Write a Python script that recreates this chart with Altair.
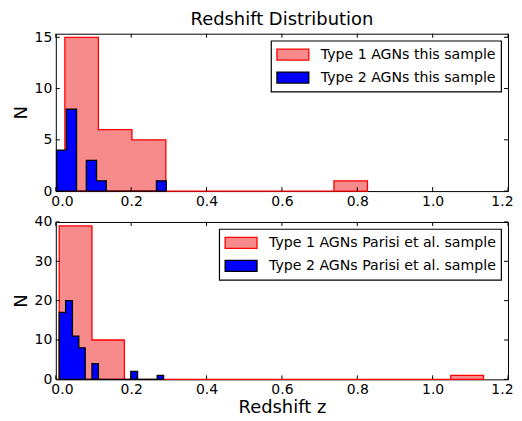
import altair as alt
import pandas as pd

# ---- data ----
x_ticks = [0.0, 0.2, 0.4, 0.6, 0.8, 1.0, 1.2]
top_y_ticks = [0, 5, 10, 15]
bot_y_ticks = [0, 10, 20, 30, 40]

top_labels = ["Type 1 AGNs this sample", "Type 2 AGNs this sample"]
bot_labels = ["Type 1 AGNs Parisi et al. sample", "Type 2 AGNs Parisi et al. sample"]

# top panel, type 1 (bin edges and counts)
top_t1_edges = [0.024, 0.113, 0.202, 0.292, 0.381, 0.470, 0.559, 0.648, 0.738, 0.827]
top_t1_counts = [15, 6, 5, 0, 0, 0, 0, 0, 1]
# top panel, type 2
top_t2_edges = [0.002, 0.028, 0.055, 0.081, 0.108, 0.134, 0.161, 0.187, 0.214, 0.240, 0.267, 0.293]
top_t2_counts = [4, 8, 0, 3, 1, 0, 0, 0, 0, 0, 1]

# bottom panel, type 1
bot_t1_edges = [0.009, 0.096, 0.182, 0.269, 0.355, 0.442, 0.529, 0.615, 0.702, 0.788, 0.875, 0.962, 1.048, 1.135]
bot_t1_counts = [39, 10, 0, 0, 0, 0, 0, 0, 0, 0, 0, 0, 1]
# bottom panel, type 2
bot_t2_edges = [0.009, 0.026, 0.044, 0.061, 0.078, 0.096, 0.113, 0.130, 0.147, 0.165, 0.182,
                0.199, 0.217, 0.234, 0.251, 0.269, 0.286]
bot_t2_counts = [17, 20, 11, 8, 0, 4, 0, 0, 0, 0, 0, 2, 0, 0, 0, 1]

FILL = ["#f78a8a", "#0000ff"]
STROKE = ["#ff0000", "#000000"]
FONT = "DejaVu Sans"
W = 454


def step_df(edges, counts, label):
    return pd.DataFrame({"z": list(edges), "n": list(counts) + [counts[-1]], "series": label})


def panel(dfs, labels, ymax, yticks, height, xtitle, title=None):
    df = pd.concat(dfs, ignore_index=True)
    xs = alt.Scale(domain=[0, 1.2], nice=False, zero=False)
    ys = alt.Scale(domain=[0, ymax], nice=False, zero=False)
    leg = alt.Legend(
        title=None, orient="top-right", offset=7, padding=5,
        fillColor="white", strokeColor="black", cornerRadius=0,
        labelFont=FONT, labelFontSize=14.2, labelColor="black", labelLimit=400,
        symbolType="M-1,-0.69H3V0.69H-1Z", symbolSize=256, symbolStrokeWidth=1.3,
        symbolOpacity=1, labelOffset=27, rowPadding=5,
    )
    xaxis = alt.Axis(values=x_ticks, format=".1f", labelFlush=True, labelFlushOffset=5,
                     labelPadding=3, title=xtitle if xtitle else "", titlePadding=2)
    yaxis = alt.Axis(values=yticks, title="N", labelFlush=False, labelPadding=4, titlePadding=4)
    areas = alt.Chart(df).mark_area(
        interpolate="step-after", strokeWidth=1.3, opacity=1, fillOpacity=1, strokeJoin="miter"
    ).encode(
        x=alt.X("z:Q", scale=xs, axis=xaxis),
        y=alt.Y("n:Q", scale=ys, axis=yaxis),
        y2=alt.datum(0),
        fill=alt.Fill("series:N", scale=alt.Scale(domain=labels, range=FILL), legend=leg),
        stroke=alt.Stroke("series:N", scale=alt.Scale(domain=labels, range=STROKE), legend=leg),
    )
    xt = pd.DataFrame({"z": x_ticks})
    yt = pd.DataFrame({"n": yticks})
    tick_b = alt.Chart(xt).mark_rule(color="black").encode(
        x=alt.X("z:Q", scale=xs, axis=xaxis), y=alt.value(height), y2=alt.value(height - 4))
    tick_t = alt.Chart(xt).mark_rule(color="black").encode(
        x=alt.X("z:Q", scale=xs, axis=xaxis), y=alt.value(0), y2=alt.value(4))
    tick_l = alt.Chart(yt).mark_rule(color="black").encode(
        y=alt.Y("n:Q", scale=ys, axis=yaxis), x=alt.value(0), x2=alt.value(4))
    tick_r = alt.Chart(yt).mark_rule(color="black").encode(
        y=alt.Y("n:Q", scale=ys, axis=yaxis), x=alt.value(W), x2=alt.value(W - 4))
    ch = alt.layer(areas, tick_b, tick_t, tick_l, tick_r).properties(width=W, height=height)
    if title:
        ch = ch.properties(title=alt.TitleParams(title, fontSize=18, font=FONT, fontWeight="normal",
                                                 color="black", frame="group", anchor="middle", offset=1))
    return ch


top = panel([step_df(top_t1_edges, top_t1_counts, top_labels[0]),
             step_df(top_t2_edges, top_t2_counts, top_labels[1])],
            top_labels, 15.35, top_y_ticks, 158, None, "Redshift Distribution")
bottom = panel([step_df(bot_t1_edges, bot_t1_counts, bot_labels[0]),
                step_df(bot_t2_edges, bot_t2_counts, bot_labels[1])],
               bot_labels, 40, bot_y_ticks, 158, "Redshift z")

chart = alt.vconcat(top, bottom, spacing=31, bounds="flush").resolve_scale(
    fill="independent", stroke="independent", x="independent", y="independent"
).resolve_legend(fill="independent", stroke="independent").properties(
    background="white", padding={"left": 3, "top": 2, "right": 0, "bottom": 0}
).configure_view(
    stroke="black", strokeWidth=1
).configure_axis(
    domain=False, ticks=False, grid=False,
    labelFont=FONT, labelFontSize=14, labelColor="black",
    titleFont=FONT, titleFontSize=18, titleFontWeight="normal", titleColor="black",
).configure_legend(strokeWidth=1.2)

chart.save("out.html", embed_options={"renderer": "svg", "actions": False})
